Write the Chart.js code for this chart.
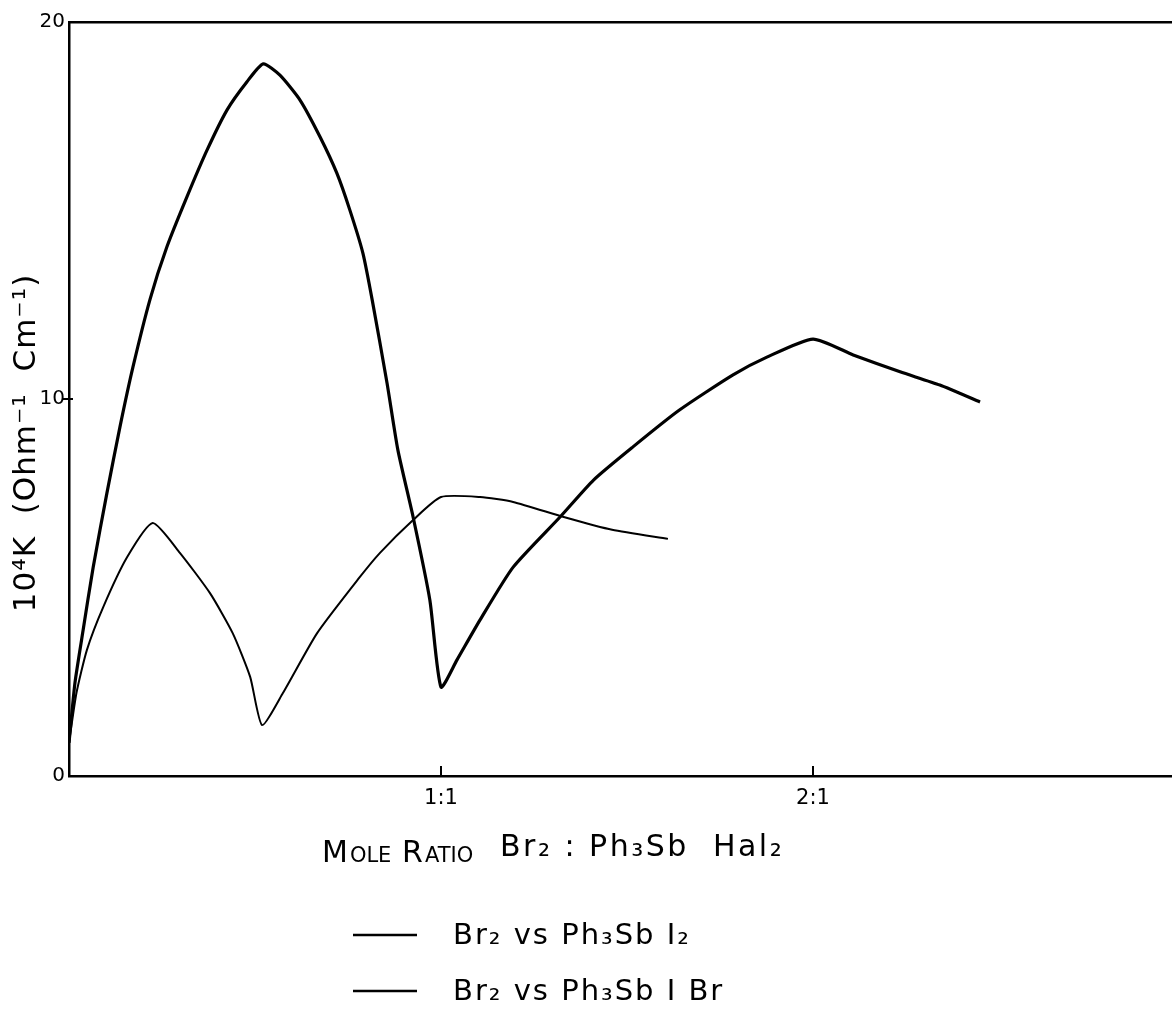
<!DOCTYPE html>
<html>
<head>
<meta charset="utf-8">
<title>Conductance vs mole ratio</title>
<script src="https://cdn.jsdelivr.net/npm/chart.js@4.4.1/dist/chart.umd.min.js"></script>
<style>
  html, body { margin: 0; padding: 0; background: #fff; }
  #wrap { width: 1172px; height: 1014px; }
</style>
</head>
<body>
<div id="wrap"><canvas id="chart" width="1172" height="1014"></canvas></div>
<script>
// mole ratio Br2 : Ph3SbHal2 (1 = 1:1, 2 = 2:1)
const ratioI2 = [0, 0.016, 0.038, 0.065, 0.102, 0.137, 0.172, 0.218, 0.263, 0.317, 0.371, 0.425, 0.478, 0.522,
  0.567, 0.621, 0.675, 0.72, 0.755, 0.79, 0.815, 0.855, 0.884, 0.925, 0.97, 1.0,
  1.043, 1.105, 1.194, 1.32, 1.41, 1.516, 1.64, 1.785, 1.876, 2.0, 2.108, 2.234, 2.341, 2.449];
const kI2 = [0.88, 2.47, 3.87, 5.54, 7.51, 9.26, 10.85, 12.65, 14.03, 15.36, 16.6, 17.67, 18.41, 18.89,
  18.59, 17.93, 16.95, 15.99, 15.01, 13.87, 12.63, 10.42, 8.65, 6.87, 4.67, 2.36,
  3.08, 4.14, 5.54, 6.87, 7.85, 8.73, 9.7, 10.64, 11.11, 11.59, 11.17, 10.72, 10.37, 9.92];

const ratioIBr = [0, 0.02, 0.048, 0.092, 0.156, 0.225, 0.298, 0.379, 0.44, 0.487, 0.519,
  0.575, 0.667, 0.782, 0.836, 0.925, 1.0, 1.105, 1.194, 1.33, 1.46, 1.61];
const kIBr = [0.88, 2.2, 3.34, 4.48, 5.8, 6.71, 5.92, 4.85, 3.79, 2.63, 1.35,
  2.2, 3.79, 5.28, 5.92, 6.79, 7.4, 7.4, 7.27, 6.87, 6.53, 6.29];

const xTickValues = [1, 2];
const xTickLabels = ['1:1', '2:1'];
const yTickValues = [0, 10, 20];

const seriesLabels = ['Br₂ vs Ph₃Sb I₂', 'Br₂ vs Ph₃Sb I Br'];
const yTitle = '10⁴K  (Ohm⁻¹  Cm⁻¹)';

const toPoints = (xs, ys) => xs.map((x, i) => ({ x: x, y: ys[i] }));
const FONT = "'DejaVu Sans', sans-serif";

// axis titles, inward tick marks and the two-line legend under the plot
const handNotes = {
  id: 'handNotes',
  afterDraw(chart) {
    const { ctx, chartArea, scales } = chart;
    ctx.save();
    ctx.strokeStyle = '#000';
    ctx.fillStyle = '#000';
    ctx.lineWidth = 2;

    xTickValues.forEach(v => {
      const px = scales.x.getPixelForValue(v);
      ctx.beginPath();
      ctx.moveTo(px, chartArea.bottom);
      ctx.lineTo(px, chartArea.bottom - 10);
      ctx.stroke();
    });
    const py = scales.y.getPixelForValue(10);
    ctx.beginPath();
    ctx.moveTo(chartArea.left - 6, py);
    ctx.lineTo(chartArea.left + 4, py);
    ctx.stroke();

    // y title
    ctx.save();
    ctx.translate(27, 443);
    ctx.rotate(-Math.PI / 2);
    ctx.font = '31px ' + FONT;
    ctx.letterSpacing = '1px';
    ctx.textAlign = 'center';
    ctx.textBaseline = 'middle';
    ctx.fillText(yTitle, 0, 0);
    ctx.restore();

    // x title, small caps done by hand
    const parts = [['M', 30], ['OLE', 21], [' ', 21], ['R', 30], ['ATIO', 21]];
    let cx = 322;
    ctx.textAlign = 'left';
    ctx.textBaseline = 'alphabetic';
    parts.forEach(([txt, size]) => {
      ctx.font = size + 'px ' + FONT;
      ctx.fillText(txt, cx, 862);
      cx += ctx.measureText(txt).width + 2;
    });
    ctx.font = '30px ' + FONT;
    ctx.letterSpacing = '2.5px';
    ctx.fillText('Br₂ : Ph₃Sb  Hal₂', 500, 856);

    // legend
    ctx.letterSpacing = '2px';
    chart.data.datasets.forEach((ds, i) => {
      const ly = 935 + i * 56;
      ctx.lineWidth = 2.5;
      ctx.beginPath();
      ctx.moveTo(353, ly);
      ctx.lineTo(417, ly);
      ctx.stroke();
      ctx.font = '29px ' + FONT;
      ctx.fillText(ds.label, 453, ly + 9);
    });
    ctx.restore();
  }
};

new Chart(document.getElementById('chart'), {
  type: 'line',
  data: {
    datasets: [
      {
        label: seriesLabels[0],
        data: toPoints(ratioI2, kI2),
        borderColor: '#000',
        borderWidth: 3.2,
        pointRadius: 0,
        tension: 0.2,
        fill: false
      },
      {
        label: seriesLabels[1],
        data: toPoints(ratioIBr, kIBr),
        borderColor: '#000',
        borderWidth: 2,
        pointRadius: 0,
        tension: 0.2,
        fill: false
      }
    ]
  },
  options: {
    responsive: false,
    animation: false,
    layout: { padding: { top: 22, right: 0, bottom: 0, left: 0 } },
    plugins: {
      legend: { display: false },
      tooltip: { enabled: false }
    },
    scales: {
      x: {
        type: 'linear',
        min: 0,
        max: 2.965,
        afterFit(s) { s.height = 238; },
        afterBuildTicks(s) { s.ticks = xTickValues.map(v => ({ value: v })); },
        ticks: {
          callback: v => xTickLabels[xTickValues.indexOf(v)] || '',
          font: { family: FONT, size: 21 },
          color: '#000',
          padding: 10,
          maxRotation: 0,
          autoSkip: false
        },
        grid: { display: false, drawTicks: false },
        border: { color: '#000', width: 2.5 }
      },
      y: {
        min: 0,
        max: 20,
        afterFit(s) { s.width = 69; },
        afterBuildTicks(s) { s.ticks = yTickValues.map(v => ({ value: v })); },
        ticks: {
          font: { family: FONT, size: 20 },
          color: '#000',
          padding: 4
        },
        grid: { display: false, drawTicks: false },
        border: { color: '#000', width: 2.5 }
      },
      top: {
        type: 'linear',
        position: 'top',
        min: 0,
        max: 2.965,
        afterFit(s) { s.height = 0; },
        ticks: { display: false },
        grid: { display: false, drawTicks: false },
        border: { color: '#000', width: 2.5 }
      }
    }
  },
  plugins: [handNotes]
});
</script>
</body>
</html>
